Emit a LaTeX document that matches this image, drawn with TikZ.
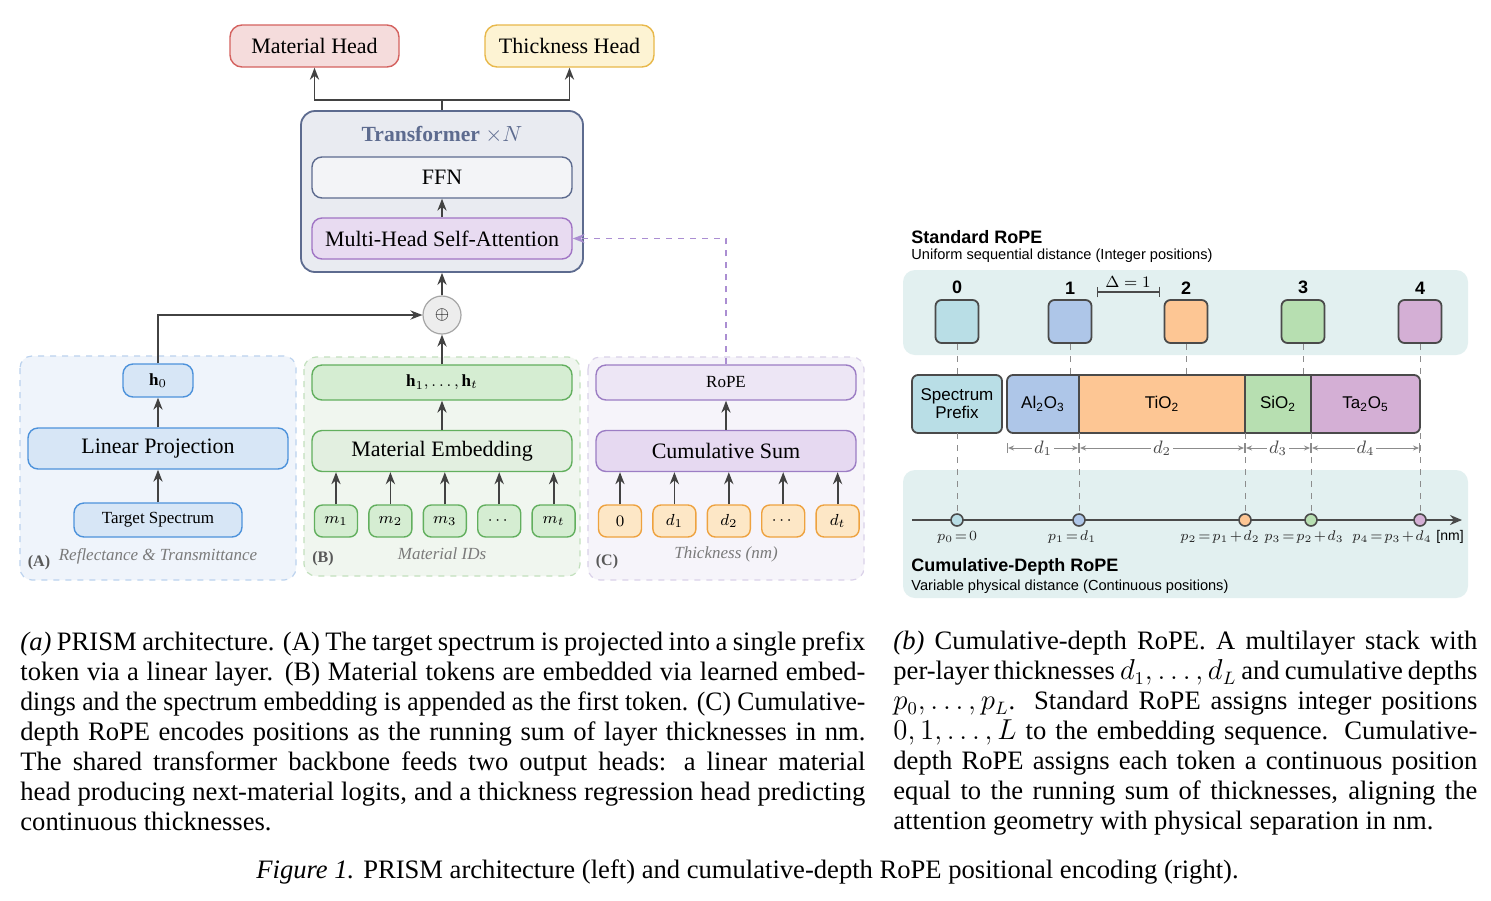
\documentclass[tikz,border=0pt]{standalone}
\usepackage{fontspec}
\setmainfont{Liberation Serif}
\setsansfont{Liberation Sans}
\usepackage{amsmath}
\usepackage{graphicx}
\usepackage{tikz}
\usetikzlibrary{positioning,calc,arrows.meta}

\definecolor{arrowgray}{HTML}{424242}
\definecolor{redfill}{HTML}{F5DCDC}
\definecolor{redline}{HTML}{D4625F}
\definecolor{yelfill}{HTML}{FDF3D3}
\definecolor{yelline}{HTML}{E8B84A}
\definecolor{slatefill}{HTML}{E9EBF1}
\definecolor{slateline}{HTML}{5D6B8F}
\definecolor{ffnfill}{HTML}{F3F4F7}
\definecolor{attnfill}{HTML}{E8DBF1}
\definecolor{attnline}{HTML}{A074C4}
\definecolor{bluefill}{HTML}{D7E6F6}
\definecolor{blueline}{HTML}{4D92DB}
\definecolor{bluebg}{HTML}{EFF4FB}
\definecolor{bluedash}{HTML}{BBD2EE}
\definecolor{greenfill}{HTML}{D5EDD2}
\definecolor{greenmid}{HTML}{E2EFE0}
\definecolor{greenline}{HTML}{62AF5E}
\definecolor{greenbg}{HTML}{F0F6EF}
\definecolor{greendash}{HTML}{C2E0BD}
\definecolor{purpfill}{HTML}{EDE6F5}
\definecolor{purpmid}{HTML}{E6D9F1}
\definecolor{purpline}{HTML}{9C7DC4}
\definecolor{purpbg}{HTML}{F6F4FA}
\definecolor{purpdash}{HTML}{DAD1E9}
\definecolor{orfill}{HTML}{FDE7C6}
\definecolor{orline}{HTML}{EEA23F}
\definecolor{ropedash}{HTML}{AB8ED2}
\definecolor{labgray}{HTML}{7A7A7A}
\definecolor{tealbg}{HTML}{E2F0F0}
\definecolor{darkline}{HTML}{4A4A4A}
\definecolor{dashgray}{HTML}{8C8C8C}
\definecolor{tokA}{HTML}{B9DEE6}
\definecolor{tokB}{HTML}{AEC6E8}
\definecolor{tokC}{HTML}{FDC694}
\definecolor{tokD}{HTML}{B7DFB1}
\definecolor{tokE}{HTML}{D4AFD5}

% axis labels: tighter relation/binary spacing
\newcommand{\plabmath}[1]{$\thickmuskip=2mu\relax\medmuskip=1.5mu\relax #1$}

\begin{document}
\begin{tikzpicture}[
    x=0.5pt, y=-0.5pt,
    >={Stealth[length=6pt, width=4.6pt]},
    big/.style={font=\fontsize{11}{13}\selectfont},
    sml/.style={font=\fontsize{8.5}{10}\selectfont},
    box/.style={draw, rounded corners=5pt, align=center, inner sep=1pt,
                line width=0.7pt},
    head/.style={box, big, minimum width=84.5pt, minimum height=21pt,
                 rounded corners=6pt},
    wide/.style={box, minimum width=130pt, minimum height=20.5pt},
    tok/.style={box, sml, minimum width=21.5pt, minimum height=16pt,
                rounded corners=4pt},
    arr/.style={->, arrowgray, line width=0.9pt},
    panel/.style={dashed, rounded corners=6pt, line width=0.6pt},
    tag/.style={font=\fontsize{8}{9}\selectfont\bfseries, text=black!65},
    note/.style={font=\fontsize{8.5}{10}\selectfont\itshape, text=labgray},
    % right-hand panel
    sans/.style={font=\sffamily\fontsize{7.3}{9}\selectfont, inner sep=0pt},
    ttl/.style={font=\sffamily\bfseries\fontsize{9}{10}\selectfont, inner sep=0pt},
    band/.style={fill=tealbg, rounded corners=6pt},
    sqr/.style={draw=darkline, line width=0.9pt, rounded corners=3pt,
                minimum size=21.5pt, inner sep=0pt},
    num/.style={font=\sffamily\bfseries\fontsize{9}{10}\selectfont},
    lay/.style={draw=darkline, line width=0.9pt, minimum height=29pt,
                inner sep=0pt, outer sep=0pt, align=center,
                font=\sffamily\fontsize{8.5}{9}\selectfont},
    dot/.style={circle, draw=darkline, line width=0.8pt, minimum size=6pt,
                inner sep=0pt},
    vdash/.style={dashgray, dashed, line width=0.5pt},
    dimline/.style={|<->|, dashgray, line width=0.5pt,
                    >={Stealth[length=3pt, width=2.5pt]}},
    dimlab/.style={midway, fill=white, inner sep=1pt, text=darkline,
                   font=\fontsize{9}{9}\selectfont},
    plab/.style={inner sep=0pt, text=black!85, font=\fontsize{7}{8}\selectfont},
    capt/.style={font=\fontsize{13.3}{15}\selectfont, inner sep=0pt,
                 anchor=north west, align=justify},
  ]
  \useasboundingbox (0,0) rectangle (1491,900);
  \fill[white] (0,0) rectangle (1491,900);

  % ---------------------------------------------------------------
  % (A)-(C) input panels
  % ---------------------------------------------------------------
  \draw[panel, fill=bluebg, draw=bluedash] (20,356) rectangle (296,580);
  \draw[panel, fill=greenbg, draw=greendash] (304,357) rectangle (580,576);
  \draw[panel, fill=purpbg, draw=purpdash] (588,357) rectangle (864,580);

  % (A) spectrum prefix
  \node[box, sml, fill=bluefill, draw=blueline, minimum width=35pt,
        minimum height=16.5pt] (h0) at (158,380.5) {$\mathbf{h}_0$};
  \node[wide, big, fill=bluefill, draw=blueline] (linProj) at (158,448.5)
    {Linear Projection};
  \node[box, sml, fill=bluefill, draw=blueline, minimum width=84pt,
        minimum height=17pt] (tgtSpec) at (158,520) {Target Spectrum};
  \node[tag] (tagA) at (39,563) {(A)};
  \node[note] (noteA) at (158,556) {Reflectance \& Transmittance};

  % (B) material tokens
  \node[box, sml, fill=greenfill, draw=greenline, minimum width=130pt,
        minimum height=17.5pt] (hB) at (442,382.5)
    {$\mathbf{h}_1,\dots,\mathbf{h}_t$};
  \node[wide, big, fill=greenmid, draw=greenline] (matEmb) at (442,451)
    {Material Embedding};
  \node[tok, fill=greenfill, draw=greenline] (m1) at (336,521) {$m_1$};
  \node[tok, fill=greenfill, draw=greenline, right=5pt of m1] (m2) {$m_2$};
  \node[tok, fill=greenfill, draw=greenline, right=5pt of m2] (m3) {$m_3$};
  \node[tok, fill=greenfill, draw=greenline, right=5pt of m3] (m4) {$\cdots$};
  \node[tok, fill=greenfill, draw=greenline, right=5pt of m4] (m5) {$m_t$};
  \node[tag] (tagB) at (323,559) {(B)};
  \node[note] (noteB) at (442,554) {Material IDs};

  % (C) thickness tokens
  \node[box, sml, fill=purpfill, draw=purpline, minimum width=130pt,
        minimum height=17.5pt] (rope) at (726,382.5) {RoPE};
  \node[wide, big, fill=purpmid, draw=purpline] (cumSum) at (726,451)
    {Cumulative Sum};
  \node[tok, fill=orfill, draw=orline] (d0) at (620,521) {$0$};
  \node[tok, fill=orfill, draw=orline, right=5pt of d0] (d1) {$d_1$};
  \node[tok, fill=orfill, draw=orline, right=5pt of d1] (d2) {$d_2$};
  \node[tok, fill=orfill, draw=orline, right=5pt of d2] (d3) {$\cdots$};
  \node[tok, fill=orfill, draw=orline, right=5pt of d3] (d4) {$d_t$};
  \node[tag] (tagC) at (607,562) {(C)};
  \node[note] (noteC) at (726,554) {Thickness (nm)};

  % ---------------------------------------------------------------
  % Shared backbone and output heads
  % ---------------------------------------------------------------
  \node[circle, draw=black!35, fill=black!7, line width=0.6pt,
        minimum size=19pt, inner sep=0pt, font=\fontsize{9}{9}\selectfont]
    (oplus) at (442,315) {$\oplus$};

  \node[box, fill=slatefill, draw=slateline, line width=0.9pt,
        rounded corners=7pt, minimum width=141pt, minimum height=80.5pt]
    (trans) at (442,191.5) {};
  \node[font=\fontsize{10.8}{12}\selectfont, text=slateline] (transT)
    at (442,135) {\textbf{Transformer} $\times N$};
  \node[wide, big, fill=ffnfill, draw=slateline] (ffn) at (442,177.5) {FFN};
  \node[wide, big, fill=attnfill, draw=attnline] (mhsa) at (442,238.5)
    {Multi-Head Self-Attention};

  \node[head, fill=redfill, draw=redline] (matHead) at (314.5,46)
    {Material Head};
  \node[head, fill=yelfill, draw=yelline] (thkHead) at (569.5,46)
    {Thickness Head};

  % connectors
  \coordinate (split) at ($(trans.north)+(0,-10)$);
  \draw[arrowgray, line width=0.9pt] (trans.north) -- (split);
  \draw[arr] (split) -| (matHead.south);
  \draw[arr] (split) -| (thkHead.south);
  \draw[arr] (mhsa) -- (ffn);
  \draw[arr] (oplus) -- (trans);
  \draw[arr] (h0.north) |- (oplus.west);
  \draw[arr] (hB) -- (oplus);
  \draw[->, ropedash, dashed, line width=0.7pt] (rope.north) |- (mhsa.east);

  \draw[arr] (tgtSpec) -- (linProj);
  \draw[arr] (linProj) -- (h0);
  \draw[arr] (matEmb) -- (hB);
  \draw[arr] (cumSum) -- (rope);
  \draw[arr] (m1.north) -- (m1.north |- matEmb.south);
  \draw[arr] (m2.north) -- (m2.north |- matEmb.south);
  \draw[arr] (m3.north) -- (m3.north |- matEmb.south);
  \draw[arr] (m4.north) -- (m4.north |- matEmb.south);
  \draw[arr] (m5.north) -- (m5.north |- matEmb.south);
  \draw[arr] (d0.north) -- (d0.north |- cumSum.south);
  \draw[arr] (d1.north) -- (d1.north |- cumSum.south);
  \draw[arr] (d2.north) -- (d2.north |- cumSum.south);
  \draw[arr] (d3.north) -- (d3.north |- cumSum.south);
  \draw[arr] (d4.north) -- (d4.north |- cumSum.south);

  % ---------------------------------------------------------------
  % Right: standard vs. cumulative-depth positions
  % ---------------------------------------------------------------
  \node[ttl, anchor=west] (stdT) at (911,237) {Standard RoPE};
  \node[sans, anchor=west] (stdS) at (911,256)
    {Uniform sequential distance (Integer positions)};
  \fill[band] (903,270) rectangle (1468,355);
  \fill[band] (903,470) rectangle (1468,598);

  \node[sqr, fill=tokA] (sq0) at (957,321.5) {};
  \node[sqr, fill=tokB] (sq1) at (1070,321.5) {};
  \node[sqr, fill=tokC] (sq2) at (1186,321.5) {};
  \node[sqr, fill=tokD] (sq3) at (1303,321.5) {};
  \node[sqr, fill=tokE] (sq4) at (1420,321.5) {};
  \node[num, above=-1pt of sq0] (n0) {0};
  \node[num, above=-1pt of sq1] (n1) {1};
  \node[num, above=-1pt of sq2] (n2) {2};
  \node[num, above=-1pt of sq3] (n3) {3};
  \node[num, above=-1pt of sq4] (n4) {4};

  \coordinate (dL) at (1097,292);
  \coordinate (dR) at (1160,292);
  \draw[|-|, darkline, line width=0.6pt] (dL) -- (dR);
  \node[font=\fontsize{8}{9}\selectfont, inner sep=0pt] (delta) at (1128,282)
    {$\Delta = 1$};

  % layer stack
  \node[lay, fill=tokA, rounded corners=3pt, minimum width=45pt] (pre)
    at (957,404) {Spectrum\\Prefix};
  \begin{scope}
    \clip[rounded corners=3pt] (1007,375) rectangle (1420,433);
    \node[lay, fill=tokB, minimum width=36pt, anchor=west] (al) at (1007,404)
      {Al\textsubscript{2}O\textsubscript{3}};
    \node[lay, fill=tokC, minimum width=83pt, anchor=west] (ti) at (al.east)
      {TiO\textsubscript{2}};
    \node[lay, fill=tokD, minimum width=33pt, anchor=west] (si) at (ti.east)
      {SiO\textsubscript{2}};
    \node[lay, fill=tokE, minimum width=54.5pt, anchor=west] (ta) at (si.east)
      {Ta\textsubscript{2}O\textsubscript{5}};
  \end{scope}
  \draw[darkline, line width=0.9pt, rounded corners=3pt]
    (al.north west) rectangle (ta.south east);

  % thickness dimensions
  \draw[dimline] ($(al.south west)+(0,15)$) -- ($(al.south east)+(0,15)$)
    node[dimlab] {$d_1$};
  \draw[dimline] ($(ti.south west)+(0,15)$) -- ($(ti.south east)+(0,15)$)
    node[dimlab] {$d_2$};
  \draw[dimline] ($(si.south west)+(0,15)$) -- ($(si.south east)+(0,15)$)
    node[dimlab] {$d_3$};
  \draw[dimline] ($(ta.south west)+(0,15)$) -- ($(ta.south east)+(0,15)$)
    node[dimlab] {$d_4$};

  % cumulative depth axis
  \coordinate (axL) at (912,520);
  \coordinate (axR) at (1462,520);
  \draw[->, darkline, line width=1pt, >={Stealth[length=6pt, width=5pt]}]
    (axL) -- (axR);
  \node[dot, fill=tokA] (p0) at (sq0.south |- axL) {};
  \node[dot, fill=tokB] (p1) at (al.south east |- axL) {};
  \node[dot, fill=tokC] (p2) at (ti.south east |- axL) {};
  \node[dot, fill=tokD] (p3) at (si.south east |- axL) {};
  \node[dot, fill=tokE] (p4) at (ta.south east |- axL) {};

  \draw[vdash] (sq0.south) -- (pre.north);
  \draw[vdash] (pre.south) -- (p0.north);
  \draw[vdash] (sq1.south) -- (sq1.south |- al.north);
  \draw[vdash] (sq2.south) -- (sq2.south |- al.north);
  \draw[vdash] (sq3.south) -- (sq3.south |- al.north);
  \draw[vdash] (sq4.south) -- (sq4.south |- al.north);
  \draw[vdash] (al.south east) -- (p1.north);
  \draw[vdash] (ti.south east) -- (p2.north);
  \draw[vdash] (si.south east) -- (p3.north);
  \draw[vdash] (ta.south east) -- (p4.north);

  \node[plab] (l0) at (957,537) {\plabmath{p_0 = 0}};
  \node[plab] (l1) at (1072,537) {\plabmath{p_1 = d_1}};
  \node[plab] (l2) at (1220,537) {\plabmath{p_2 = p_1 + d_2}};
  \node[plab] (l3) at (1304,537) {\plabmath{p_3 = p_2 + d_3}};
  \node[plab] (l4) at (1392,537) {\plabmath{p_4 = p_3 + d_4}};
  \node[sans, font=\sffamily\fontsize{7}{8}\selectfont] (nm) at (1450,537)
    {[nm]};

  \node[ttl, anchor=west] (cumT) at (911,567) {Cumulative-Depth RoPE};
  \node[sans, anchor=west] (cumS) at (911,587)
    {Variable physical distance (Continuous positions)};

  % ---------------------------------------------------------------
  % Captions
  % ---------------------------------------------------------------
  \node[capt, text width=422.5pt] (capA) at (20,631)
    {\textit{(a)} PRISM architecture. (A) The target spectrum is projected
     into a single prefix\linebreak token via a linear layer. (B) Material
     tokens are embedded via learned embed-\linebreak
     \resizebox{\linewidth}{\height}{dings and the spectrum embedding is
     appended as the first token. (C) Cumulative-}\linebreak
     depth RoPE encodes positions as the running sum of layer thicknesses in
     nm.\linebreak The shared transformer backbone feeds two output heads: a
     linear material\linebreak head producing next-material logits, and a
     thickness regression head predicting\linebreak continuous thicknesses.};
  \node[capt, text width=292pt] (capB) at (893,631)
    {\textit{(b)} Cumulative-depth RoPE. A multilayer stack with\linebreak
     per-layer thicknesses $d_1,\dots,d_L$ and cumulative depths\linebreak
     $p_0,\dots,p_L$. Standard RoPE assigns integer positions\linebreak
     $0,1,\dots,L$ to the embedding sequence. Cumulative-\linebreak
     depth RoPE assigns each token a continuous position\linebreak
     equal to the running sum of thicknesses, aligning the\linebreak
     attention geometry with physical separation in nm.};
  \node[font=\fontsize{13.3}{15}\selectfont, inner sep=0pt, anchor=base]
    (capFig) at (747.5,878)
    {\textit{Figure 1.} PRISM architecture (left) and cumulative-depth RoPE
     positional encoding (right).};
\end{tikzpicture}
\end{document}
